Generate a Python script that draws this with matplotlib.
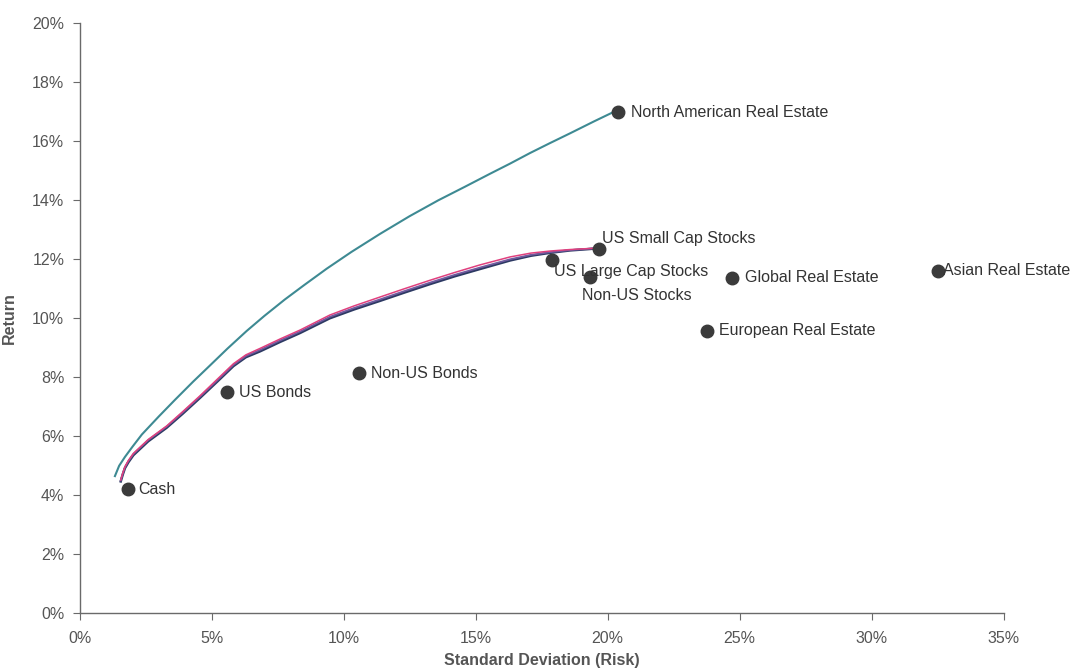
'''Efficient frontier with asset class risk/return points.'''

import numpy as np
import matplotlib
matplotlib.use('Agg')
import matplotlib.pyplot as plt
from matplotlib.ticker import FuncFormatter, MultipleLocator

plt.rcParams['font.family'] = ['Liberation Sans', 'DejaVu Sans']

# Asset classes (std dev %, return %)
assets = ['Cash', 'US Bonds', 'Non-US Bonds', 'US Large Cap Stocks',
          'Non-US Stocks', 'US Small Cap Stocks', 'North American Real Estate',
          'Global Real Estate', 'European Real Estate', 'Asian Real Estate']
risk = [1.82, 5.58, 10.59, 17.88, 19.32, 19.67, 20.39, 24.72, 23.77, 32.5]
ret = [4.19, 7.47, 8.11, 11.96, 11.39, 12.33, 16.96, 11.35, 9.56, 11.59]
# label offsets in pixels (dx, dy)
label_dx = [11, 12, 12, 2, -8, 3, 13, 13, 12, 5]
label_dy = [0, 0, 0, -12, -19, 10, 0, 0, 0, 0]

# Frontier including North American real estate
fr_na_x = [1.34, 1.50, 1.72, 2.00, 2.36, 3.00, 3.62, 4.30, 4.94, 5.60, 6.33,
           7.00, 7.78, 8.50, 9.36, 10.30, 11.38, 12.50, 13.59, 14.60, 15.55,
           16.30, 17.06, 17.80, 18.58, 19.50, 20.36]
fr_na_y = [4.63, 4.98, 5.28, 5.62, 6.04, 6.65, 7.22, 7.83, 8.38, 8.95, 9.55,
           10.06, 10.62, 11.10, 11.66, 12.23, 12.84, 13.44, 13.98, 14.44, 14.88,
           15.22, 15.58, 15.91, 16.25, 16.66, 17.03]

# Frontiers of stocks/bonds (three nearly overlapping lines)
fr_x = [1.56, 1.64, 1.72, 1.85, 2.04, 2.60, 3.30, 3.90, 4.56, 5.20, 5.83,
        6.30, 6.84, 7.60, 8.35, 9.48, 10.40, 11.38, 12.30, 13.28, 14.20,
        15.17, 16.31, 17.10, 17.83, 18.58, 19.20, 19.64]
fr_pink_y = [4.50, 4.74, 4.95, 5.16, 5.40, 5.87, 6.33, 6.81, 7.35, 7.90, 8.44,
             8.74, 8.96, 9.28, 9.58, 10.09, 10.40, 10.70, 10.98, 11.27, 11.53,
             11.79, 12.06, 12.19, 12.26, 12.31, 12.34, 12.36]
fr_blue_y = [4.48, 4.72, 4.93, 5.14, 5.38, 5.85, 6.31, 6.78, 7.32, 7.86, 8.40,
             8.70, 8.91, 9.23, 9.53, 10.03, 10.33, 10.62, 10.90, 11.19, 11.45,
             11.70, 11.98, 12.13, 12.22, 12.29, 12.33, 12.36]
fr_navy_y = [4.45, 4.69, 4.90, 5.10, 5.34, 5.81, 6.27, 6.74, 7.28, 7.82, 8.36,
             8.66, 8.86, 9.18, 9.48, 9.98, 10.28, 10.57, 10.85, 11.14, 11.40,
             11.65, 11.94, 12.10, 12.20, 12.28, 12.32, 12.35]

fig = plt.figure(figsize=(10.72, 6.71), dpi=100)
ax = fig.add_axes([0.0742, 0.0869, 0.8620, 0.8793])

ax.plot(fr_na_x, fr_na_y, '-', color='#3e8a93', lw=1.5)
ax.plot(fr_x, fr_navy_y, '-', color='#2d3a63', lw=1.8)
ax.plot(fr_x, fr_blue_y, '-', color='#6f5a9e', lw=1.3)
ax.plot(fr_x, fr_pink_y, '-', color='#e0407e', lw=1.1)

ax.plot(risk, ret, 'o', color='#3b3b3b', ms=9, zorder=5, ls='none')
for name, x, y, dx, dy in zip(assets, risk, ret, label_dx, label_dy):
    ax.annotate(name, (x, y), xytext=(dx, dy), textcoords='offset pixels',
                ha='left', va='center', fontsize=11.5, color='#333333',
                zorder=6)

ax.set_xlim(0, 35)
ax.set_ylim(0, 20)
ax.xaxis.set_major_locator(MultipleLocator(5))
ax.yaxis.set_major_locator(MultipleLocator(2))
pct = FuncFormatter(lambda v, p: '%d%%' % round(v))
ax.xaxis.set_major_formatter(pct)
ax.yaxis.set_major_formatter(pct)

for s in ['top', 'right']:
    ax.spines[s].set_visible(False)
for s in ['left', 'bottom']:
    ax.spines[s].set_color('#6a6a6a')
    ax.spines[s].set_linewidth(1.0)
ax.tick_params(direction='out', length=5, color='#6a6a6a',
               labelcolor='#555555', labelsize=11.5)
ax.tick_params(axis='x', pad=8)
ax.tick_params(axis='y', pad=6)

ax.set_xlabel('Standard Deviation (Risk)', fontsize=11.5, fontweight='bold',
              color='#555555', labelpad=5)
ax.set_ylabel('Return', fontsize=11.5, fontweight='bold', color='#555555',
              labelpad=11)

fig.savefig('out.png', dpi=100)
